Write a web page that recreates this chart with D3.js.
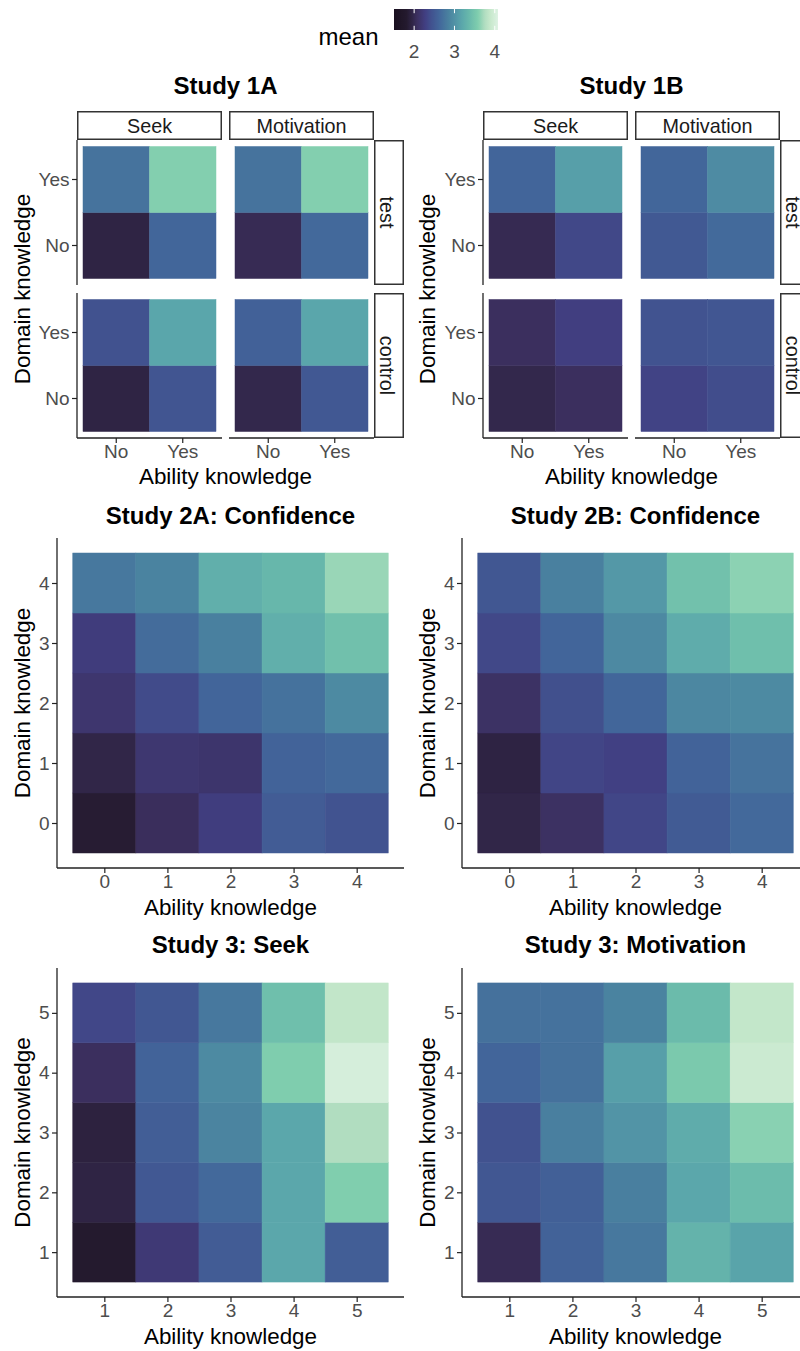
<!DOCTYPE html>
<html><head><meta charset="utf-8">
<script src="https://cdn.jsdelivr.net/npm/d3@7"></script>
<style>
body{margin:0;background:#fff}
svg{display:block}
text{font-family:"Liberation Sans",Arial,Helvetica,sans-serif}
</style>
</head><body>
<svg id="chart" width="800" height="1351"></svg>
<script>
// ---------------- DATA ----------------
// mako-like colour ramp (position along the mean range -> colour)
const paletteStops = [0, 0.12, 0.17, 0.22, 0.30, 0.36, 0.43, 0.53, 0.59, 0.65, 0.72, 0.81, 0.87, 0.92, 1];
const paletteColors = ["#1a1020","#241a2e","#2f2444","#3b2f5e","#413f82","#41528f","#42659a",
                       "#4a83a0","#5294a6","#5aa6ab","#68b8ab","#80ceae","#b0ddc0","#c4e7ca","#def2e3"];
const meanRange = [1.5, 4.08];
const legendTicks = [2, 3, 4];

// Study 1: rows = Domain knowledge [No, Yes]; cols = Ability knowledge [No, Yes]
const study1Levels = ["No", "Yes"];
const study1Measures = ["Seek", "Motivation"];
const study1Conditions = ["test", "control"];

const s1A_test_seek       = [[1.94, 2.62], [2.73, 3.60]];
const s1A_test_motivation = [[2.02, 2.64], [2.73, 3.60]];
const s1A_ctrl_seek       = [[1.94, 2.46], [2.43, 3.18]];
const s1A_ctrl_motivation = [[1.98, 2.49], [2.57, 3.18]];

const s1B_test_seek       = [[2.01, 2.35], [2.61, 3.12]];
const s1B_test_motivation = [[2.50, 2.65], [2.62, 2.94]];
const s1B_ctrl_seek       = [[1.98, 2.07], [2.07, 2.26]];
const s1B_ctrl_motivation = [[2.31, 2.39], [2.44, 2.47]];

// Study 2: rows = Domain knowledge 0..4; cols = Ability knowledge 0..4
const study2Levels = [0, 1, 2, 3, 4];
const s2A_confidence = [
  [1.84, 2.06, 2.25, 2.52, 2.44],
  [1.96, 2.17, 2.15, 2.59, 2.64],
  [2.16, 2.37, 2.61, 2.72, 2.93],
  [2.24, 2.67, 2.84, 3.27, 3.44],
  [2.77, 2.87, 3.27, 3.35, 3.67]
];
const s2B_confidence = [
  [1.96, 2.09, 2.33, 2.51, 2.64],
  [1.93, 2.32, 2.28, 2.59, 2.73],
  [2.10, 2.41, 2.62, 2.90, 2.93],
  [2.35, 2.61, 2.92, 3.24, 3.43],
  [2.48, 2.84, 3.06, 3.45, 3.63]
];

// Study 3: rows = Domain knowledge 1..5; cols = Ability knowledge 1..5
const study3Levels = [1, 2, 3, 4, 5];
const s3_seek = [
  [1.81, 2.20, 2.52, 3.19, 2.54],
  [1.94, 2.49, 2.64, 3.19, 3.59],
  [1.91, 2.54, 2.88, 3.19, 3.75],
  [2.07, 2.59, 2.93, 3.58, 4.01],
  [2.34, 2.48, 2.77, 3.43, 3.86]
];
const s3_motivation = [
  [2.02, 2.58, 2.77, 3.31, 3.16],
  [2.48, 2.56, 2.83, 3.19, 3.40],
  [2.43, 2.83, 3.02, 3.24, 3.62],
  [2.61, 2.71, 3.12, 3.54, 3.93],
  [2.71, 2.72, 2.87, 3.39, 3.87]
];

// ---------------- DRAWING ----------------
const svg = d3.select("#chart");
const FS_TITLE = 24, FS_AXT = 22.4, FS_TICK = 19, FS_STRIP = 19.8, FS_LEG = 24;
const TICK_COL = "#4d4d4d", LINE_COL = "#222";
const FONT = '"Liberation Sans",Arial,Helvetica,sans-serif';

const color = d3.scaleLinear()
  .domain(paletteStops.map(t => meanRange[0] + t * (meanRange[1] - meanRange[0])))
  .range(paletteColors)
  .interpolate(d3.interpolateRgb)
  .clamp(true);

// Legend
(function legend() {
  const lx = d3.scaleLinear().domain(meanRange).range([394, 498]);
  const defs = svg.append("defs");
  const grad = defs.append("linearGradient").attr("id", "meanGrad")
    .attr("x1", "0%").attr("x2", "100%").attr("y1", "0%").attr("y2", "0%");
  d3.range(0, 1.0001, 0.02).forEach(t => {
    grad.append("stop").attr("offset", (t * 100) + "%")
      .attr("stop-color", color(meanRange[0] + t * (meanRange[1] - meanRange[0])));
  });
  const g = svg.append("g");
  g.append("rect").attr("x", lx.range()[0]).attr("y", 9)
    .attr("width", lx.range()[1] - lx.range()[0]).attr("height", 21)
    .attr("fill", "url(#meanGrad)");
  legendTicks.forEach(v => {
    g.append("line").attr("x1", lx(v)).attr("x2", lx(v)).attr("y1", 9).attr("y2", 13.2)
      .attr("stroke", "#fff").attr("stroke-width", 1);
    g.append("line").attr("x1", lx(v)).attr("x2", lx(v)).attr("y1", 25.8).attr("y2", 30)
      .attr("stroke", "#fff").attr("stroke-width", 1);
    g.append("text").attr("x", lx(v)).attr("y", 58).attr("text-anchor", "middle")
      .attr("font-size", FS_TICK).attr("fill", TICK_COL).text(v);
  });
  g.append("text").attr("x", 318.5).attr("y", 45).attr("font-size", FS_LEG)
    .attr("fill", "#000").text("mean");
})();

function styleAxis(ax) {
  ax.select(".domain").remove();
  ax.selectAll(".tick line").attr("stroke", LINE_COL).attr("stroke-width", 1.2);
  ax.selectAll(".tick text").attr("font-size", FS_TICK).attr("fill", TICK_COL)
    .attr("font-family", FONT);
}

function hline(x1, x2, y) {
  svg.append("line").attr("x1", x1).attr("x2", x2).attr("y1", y).attr("y2", y)
    .attr("stroke", LINE_COL).attr("stroke-width", 1.3);
}
function vline(x, y1, y2) {
  svg.append("line").attr("x1", x).attr("x2", x).attr("y1", y1).attr("y2", y2)
    .attr("stroke", LINE_COL).attr("stroke-width", 1.3);
}

function titleText(x, y, t) {
  svg.append("text").attr("x", x).attr("y", y).attr("text-anchor", "middle")
    .attr("font-size", FS_TITLE).attr("font-weight", "bold").attr("fill", "#000").text(t);
}
function xTitle(x, y) {
  svg.append("text").attr("x", x).attr("y", y).attr("text-anchor", "middle")
    .attr("font-size", FS_AXT).attr("fill", "#000").text("Ability knowledge");
}
function yTitle(x, y) {
  svg.append("text").attr("transform", `translate(${x},${y}) rotate(-90)`)
    .attr("text-anchor", "middle").attr("font-size", FS_AXT).attr("fill", "#000")
    .text("Domain knowledge");
}

// Study 1 facet grid
function drawStudy1(title, left, yTitleX, grid) {
  const pw = 145, gapX = 7, top = 140, ph = 145, gapY = 8, stripTop = 111, rsW = 30;
  const innerX = 6, innerY = 6.5;
  study1Conditions.forEach((cond, j) => {
    const y0 = top + j * (ph + gapY);
    study1Measures.forEach((meas, i) => {
      const x0 = left + i * (pw + gapX);
      const xb = d3.scaleBand().domain(study1Levels).range([x0 + innerX, x0 + pw - innerX]);
      const yb = d3.scaleBand().domain(study1Levels).range([y0 + ph - innerY, y0 + innerY]);
      const arr = grid[cond][meas];
      const cells = [];
      study1Levels.forEach((dk, di) => study1Levels.forEach((ak, ai) =>
        cells.push({ dk, ak, v: arr[di][ai] })));
      svg.append("g").selectAll("rect").data(cells).join("rect")
        .attr("x", d => xb(d.ak)).attr("y", d => yb(d.dk))
        .attr("width", xb.bandwidth()).attr("height", yb.bandwidth())
        .attr("fill", d => color(d.v))
        .attr("stroke", d => color(d.v)).attr("stroke-width", 0.5);

      if (i === 0) {
        const ax = svg.append("g").attr("transform", `translate(${x0},0)`)
          .call(d3.axisLeft(yb).tickSize(5).tickPadding(2.5));
        styleAxis(ax);
        vline(x0, y0, y0 + ph);
      }
      if (j === study1Conditions.length - 1) {
        const ax = svg.append("g").attr("transform", `translate(0,${y0 + ph})`)
          .call(d3.axisBottom(xb).tickSize(5).tickPadding(1.5));
        styleAxis(ax);
        hline(x0, x0 + pw, y0 + ph);
      }
      if (j === 0) {
        svg.append("rect").attr("x", x0 + 0.75).attr("y", stripTop + 0.75)
          .attr("width", pw - 1.5).attr("height", top - stripTop - 1.5)
          .attr("fill", "#fff").attr("stroke", "#333").attr("stroke-width", 1.5);
        svg.append("text").attr("x", x0 + pw / 2).attr("y", 133)
          .attr("text-anchor", "middle").attr("font-size", FS_STRIP).attr("fill", "#1a1a1a")
          .text(meas);
      }
      if (i === study1Measures.length - 1) {
        const sx = x0 + pw;
        svg.append("rect").attr("x", sx + 0.75).attr("y", y0 + 0.75)
          .attr("width", rsW - 1.5).attr("height", ph - 1.5)
          .attr("fill", "#fff").attr("stroke", "#333").attr("stroke-width", 1.5);
        svg.append("text").attr("transform", `translate(${sx + 6},${y0 + ph / 2}) rotate(90)`)
          .attr("text-anchor", "middle").attr("font-size", FS_STRIP).attr("fill", "#1a1a1a")
          .text(cond);
      }
    });
  });
  const cx = left + pw + gapX / 2;
  titleText(cx, 94, title);
  xTitle(cx, 484);
  yTitle(yTitleX, top + (2 * ph + gapY) / 2);
}

drawStudy1("Study 1A", 77, 29.5, {
  test: { Seek: s1A_test_seek, Motivation: s1A_test_motivation },
  control: { Seek: s1A_ctrl_seek, Motivation: s1A_ctrl_motivation }
});
drawStudy1("Study 1B", 483, 435, {
  test: { Seek: s1B_test_seek, Motivation: s1B_test_motivation },
  control: { Seek: s1B_ctrl_seek, Motivation: s1B_ctrl_motivation }
});

// Continuous heatmaps
function drawCont(title, levels, rows, x0, x1, y0, y1, titleY, yTitleX) {
  const lo = levels[0] - 0.75, hi = levels[levels.length - 1] + 0.75;
  const x = d3.scaleLinear().domain([lo, hi]).range([x0, x1]);
  const y = d3.scaleLinear().domain([lo, hi]).range([y1, y0]);
  const cells = [];
  levels.forEach((dk, di) => levels.forEach((ak, ai) => cells.push({ dk, ak, v: rows[di][ai] })));
  svg.append("g").selectAll("rect").data(cells).join("rect")
    .attr("x", d => x(d.ak - 0.5)).attr("y", d => y(d.dk + 0.5))
    .attr("width", d => x(d.ak + 0.5) - x(d.ak - 0.5))
    .attr("height", d => y(d.dk - 0.5) - y(d.dk + 0.5))
    .attr("fill", d => color(d.v))
    .attr("stroke", d => color(d.v)).attr("stroke-width", 0.5);
  const axb = svg.append("g").attr("transform", `translate(0,${y1})`)
    .call(d3.axisBottom(x).tickValues(levels).tickFormat(d3.format("d")).tickSize(5).tickPadding(1.5));
  styleAxis(axb);
  const axl = svg.append("g").attr("transform", `translate(${x0},0)`)
    .call(d3.axisLeft(y).tickValues(levels).tickFormat(d3.format("d")).tickSize(5).tickPadding(2.5));
  styleAxis(axl);
  vline(x0, y0, y1);
  hline(x0, x1, y1);
  const cx = (x0 + x1) / 2;
  titleText(cx, titleY, title);
  xTitle(cx, y1 + 47);
  yTitle(yTitleX, (y0 + y1) / 2);
}

drawCont("Study 2A: Confidence", study2Levels, s2A_confidence, 57, 404, 538, 868, 524, 29.5);
drawCont("Study 2B: Confidence", study2Levels, s2B_confidence, 462, 809, 538, 868, 524, 434.5);
drawCont("Study 3: Seek", study3Levels, s3_seek, 57, 404, 968, 1297, 953, 29.5);
drawCont("Study 3: Motivation", study3Levels, s3_motivation, 462, 809, 968, 1297, 953, 434.5);
</script>
</body></html>
